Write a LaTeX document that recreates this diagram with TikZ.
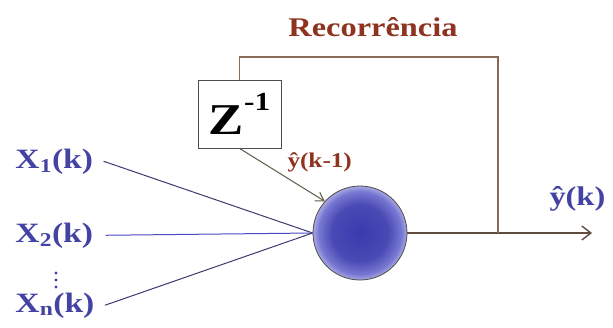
\documentclass[tikz,border=0pt]{standalone}
\usepackage{fontspec}
\setmainfont{Liberation Serif}[FakeStretch=1.2]
\usetikzlibrary{arrows.meta, positioning}
\definecolor{cnavy}{HTML}{4343A3}
\definecolor{cblue}{HTML}{4A4AC4}
\definecolor{cbrown}{HTML}{8E3320}
\definecolor{cline}{HTML}{8A6A58}
\definecolor{cdark}{HTML}{3A3A70}
\definecolor{colive}{HTML}{5E5844}
\definecolor{ccore}{HTML}{3A3AAE}
\definecolor{crim}{HTML}{A8A8E2}
\pgfdeclareradialshading{neuronshade}{\pgfpoint{0bp}{0bp}}{color(0bp)=(ccore); color(15bp)=(ccore!92!white); color(22bp)=(cblue!75); color(25bp)=(crim); color(50bp)=(crim)}
\tikzset{
  every picture/.style={font=\bfseries, line width=1pt},
  inlabel/.style={text=cnavy, font=\bfseries\fontsize{28}{30}\selectfont, anchor=base west, inner sep=0pt},
  redlabel/.style={text=cbrown, inner sep=0pt},
  neuron/.style={circle, draw=black!70, line width=0.8pt, minimum size=94pt, shading=neuronshade},
  delaybox/.style={draw=black!70, fill=white, line width=0.8pt, minimum width=83pt, minimum height=68pt, inner sep=0pt},
  inwire/.style={draw=cdark, line width=1pt},
  feedback/.style={draw=cline, line width=1.2pt},
  outarrow/.style={draw=cline!70!black, line width=1.2pt, -{Straight Barb[length=9pt, width=14pt, line width=1.4pt]}},
}

\begin{document}
\begin{tikzpicture}[x=1pt, y=-1pt]
  \useasboundingbox (0,0) rectangle (613,327);
  % neuron and delay
  \node[neuron] (neuron) at (360,233) {};
  \node[delaybox] (delay) at (239.5,114) {\fontsize{44}{46}\selectfont Z\raisebox{0.55em}{\fontsize{26}{28}\selectfont -1}};
  % inputs
  \node[inlabel] (x1) at (15,168) {X\textsubscript{1}(k)};
  \node[inlabel] (x2) at (15,242) {X\textsubscript{2}(k)};
  \node[inlabel] (xn) at (15,312) {X\textsubscript{n}(k)};
  \foreach \y in {273,280,287}
    \fill[cnavy] (56,\y) circle (1.7pt);
  \draw[inwire] ([xshift=10pt]x1.east) -- (neuron.west);
  \draw[inwire, draw=cblue] ([xshift=12pt]x2.east) -- (neuron.west);
  \draw[inwire] ([xshift=10pt]xn.east) -- (neuron.west);
  % delayed output into the neuron
  \draw[colive, line width=1pt, -{Straight Barb[length=8pt, width=10pt]}] (delay.south) -- (neuron.138);
  \node[redlabel, font=\bfseries\fontsize{21}{23}\selectfont, anchor=base west] (ydel) at (287,167) {ŷ(k-1)};
  % output and recurrence
  \coordinate (tap) at (498,233);
  \coordinate (ftop) at (498,57);
  \coordinate (out) at (592,233);
  \draw[outarrow] (neuron.east) -- (out);
  \draw[feedback] (tap) -- (ftop) -| (delay.north);
  \node[redlabel, font=\bfseries\fontsize{27}{29}\selectfont] (rec) at (373,27) {Recorrência};
  \node[text=cnavy, inner sep=0pt, font=\bfseries\fontsize{27}{29}\selectfont, anchor=base west] (yout) at (549,205) {ŷ(k)};
\end{tikzpicture}
\end{document}
